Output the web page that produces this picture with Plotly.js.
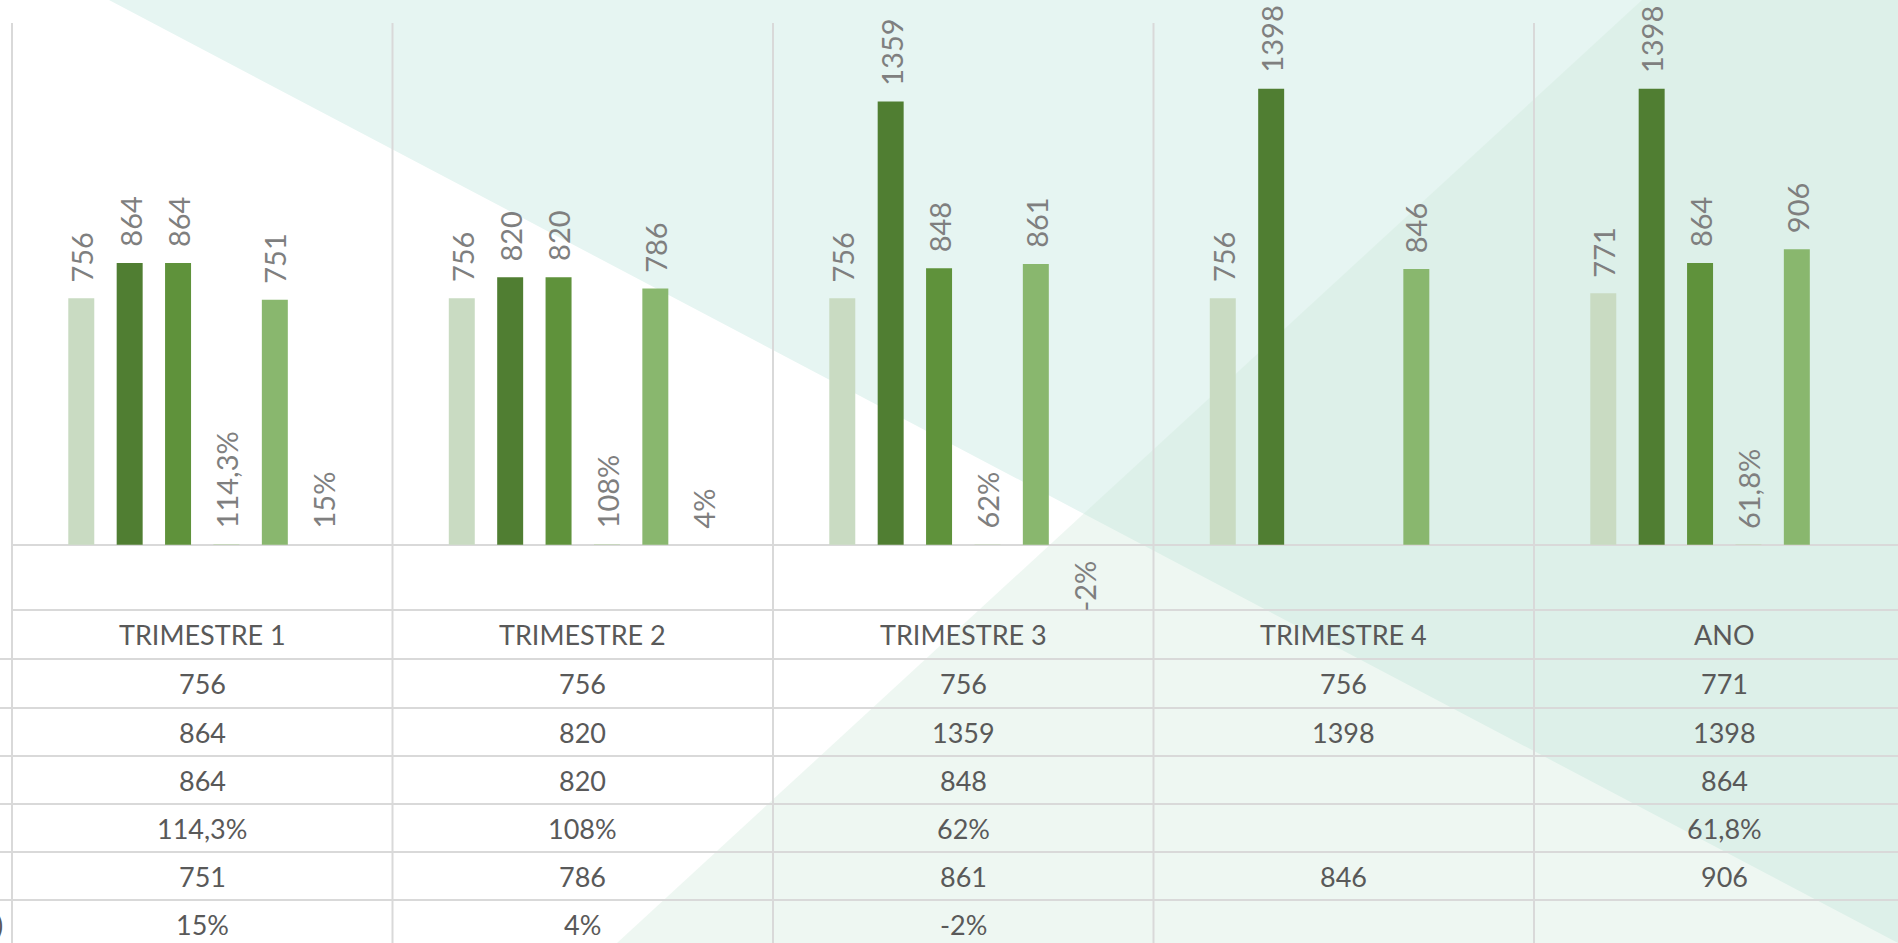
<!DOCTYPE html>
<html>
<head>
<meta charset="utf-8">
<script src="https://cdn.plot.ly/plotly-3.0.1.min.js"></script>
<style>
  html, body { margin: 0; padding: 0; background: #ffffff; }
  #chart { width: 1898px; height: 943px; }
</style>
</head>
<body>
<div id="chart"></div>
<script>
// ---------------- DATA ----------------
const categories = ['TRIMESTRE 1', 'TRIMESTRE 2', 'TRIMESTRE 3', 'TRIMESTRE 4', 'ANO'];
const serie1 = [756, 756, 756, 756, 771];
const serie2 = [864, 820, 1359, 1398, 1398];
const serie3 = [864, 820, 848, null, 864];
const serie4Pct = [114.3, 108, 62, null, 61.8];
const serie5 = [751, 786, 861, 846, 906];
const serie6Pct = [15, 4, -2, null, null];

// ---------------- LAYOUT CONSTANTS ----------------
const W = 1898, H = 943;
const M = { l: 12, r: 0, t: 23, b: 333 };
const PW = W - M.l - M.r, PH = H - M.t - M.b;
const XMIN = -0.5, XMAX = -0.5 + PW / 380.5;
const BARGAP = 0.237, BARGROUPGAP = 0.463;
const NS = 6;
const SLOT = (1 - BARGAP) / NS;

const px = X => (X - M.l) / PW;          // pixel -> paper x
const py = Y => (M.t + PH - Y) / PH;      // pixel -> paper y

const fmtPct = v => String(v).replace('.', ',') + '%';
const fmtNum = v => String(v);

const series = [
  { name: 'Série 1', vals: serie1, color: '#c9dbc2', pct: false },
  { name: 'Série 2', vals: serie2, color: '#507e32', pct: false },
  { name: 'Série 3', vals: serie3, color: '#5f923b', pct: false },
  { name: 'Série 4', vals: serie4Pct, color: '#a9d18e', pct: true },
  { name: 'Série 5', vals: serie5, color: '#89b76e', pct: false },
  { name: 'Série 6', vals: serie6Pct, color: '#c5e0b4', pct: true }
];

const LBL_FONT = { family: 'Lato, "Open Sans", sans-serif', size: 29, color: '#7f7f7f' };
const TBL_FONT = { family: 'Lato, "Open Sans", sans-serif', size: 27, color: '#595959' };

// ---------------- TRACES ----------------
const traces = series.map(s => ({
  type: 'bar',
  name: s.name,
  x: categories,
  y: s.vals.map(v => v === null ? null : (s.pct ? v / 100 : v)),
  marker: { color: s.color, line: { width: 0 } },
  hoverinfo: 'skip',
  showlegend: false
}));

// ---------------- ANNOTATIONS ----------------
const annotations = [];
series.forEach((s, k) => {
  s.vals.forEach((v, i) => {
    if (v === null) return;
    const yv = s.pct ? v / 100 : v;
    const neg = yv < 0;
    annotations.push({
      xref: 'x', yref: 'y',
      x: i + (k - (NS - 1) / 2) * SLOT,
      y: yv,
      text: s.pct ? fmtPct(v) : fmtNum(v),
      textangle: -90,
      showarrow: false,
      xanchor: 'center',
      yanchor: neg ? 'top' : 'bottom',
      yshift: neg ? -14 : 14,
      font: LBL_FONT
    });
  });
});

// data table
const rowLines = [610, 659, 708, 756, 804, 852, 900, 948];
const rowCenter = r => py((rowLines[r] + rowLines[r + 1]) / 2);
categories.forEach((c, i) => {
  annotations.push({
    xref: 'x', yref: 'paper', x: i, y: rowCenter(0),
    text: c, showarrow: false, xanchor: 'center', yanchor: 'middle', font: TBL_FONT
  });
});
series.forEach((s, k) => {
  s.vals.forEach((v, i) => {
    if (v === null) return;
    annotations.push({
      xref: 'x', yref: 'paper', x: i, y: rowCenter(k + 1),
      text: s.pct ? fmtPct(v) : fmtNum(v),
      showarrow: false, xanchor: 'center', yanchor: 'middle', font: TBL_FONT
    });
  });
});
// clipped end of the last row label (column lies off the left edge)
annotations.push({
  xref: 'paper', yref: 'paper', x: px(5), y: rowCenter(6),
  text: ')', showarrow: false, xanchor: 'right', yanchor: 'middle', font: TBL_FONT
});

// ---------------- SHAPES ----------------
const shapes = [];
const poly = pts => 'M ' + pts.map(p => px(p[0]) + ',' + py(p[1])).join(' L ') + ' Z';
// background decorative triangles
shapes.push({
  type: 'path', xref: 'paper', yref: 'paper', layer: 'below',
  path: poly([[109, 0], [1898, 943], [2100, 1050], [2100, 0]]),
  fillcolor: 'rgb(230,245,242)', line: { width: 0 }
});
shapes.push({
  type: 'path', xref: 'paper', yref: 'paper', layer: 'below',
  path: poly([[1642, 0], [617, 943], [560, 1000], [2100, 1000], [2100, 0]]),
  fillcolor: 'rgba(205,232,218,0.34)', line: { width: 0 }
});
// vertical separators (category boundaries) through plot and table
const GRID = '#d9d9d9';
for (let k = 0; k <= 5; k++) {
  const X = M.l + k * 380.5;
  shapes.push({
    type: 'line', xref: 'paper', yref: 'paper', layer: 'below',
    x0: px(X), x1: px(X), y0: py(M.t), y1: py(960),
    line: { color: GRID, width: 2 }
  });
}
// table horizontal lines
shapes.push({
  type: 'line', xref: 'paper', yref: 'paper', layer: 'below',
  x0: 0, x1: 1.05, y0: py(rowLines[0]), y1: py(rowLines[0]),
  line: { color: GRID, width: 2 }
});
for (let r = 1; r < rowLines.length - 1; r++) {
  shapes.push({
    type: 'line', xref: 'paper', yref: 'paper', layer: 'below',
    x0: px(-5), x1: 1.05, y0: py(rowLines[r]), y1: py(rowLines[r]),
    line: { color: GRID, width: 2 }
  });
}

// ---------------- LAYOUT ----------------
const layout = {
  width: W, height: H,
  margin: M,
  paper_bgcolor: '#ffffff',
  plot_bgcolor: 'rgba(0,0,0,0)',
  barmode: 'group',
  bargap: BARGAP,
  bargroupgap: BARGROUPGAP,
  showlegend: false,
  xaxis: {
    type: 'category',
    range: [XMIN, XMAX],
    showticklabels: false, showgrid: false, zeroline: false,
    showline: false, ticks: '', fixedrange: true
  },
  yaxis: {
    range: [-200, 1600],
    showticklabels: false, showgrid: false,
    zeroline: true, zerolinecolor: GRID, zerolinewidth: 2,
    showline: false, ticks: '', fixedrange: true
  },
  annotations: annotations,
  shapes: shapes,
  font: { family: 'Lato, sans-serif' }
};

Plotly.newPlot('chart', traces, layout, { displayModeBar: false, staticPlot: true });
</script>
</body>
</html>
